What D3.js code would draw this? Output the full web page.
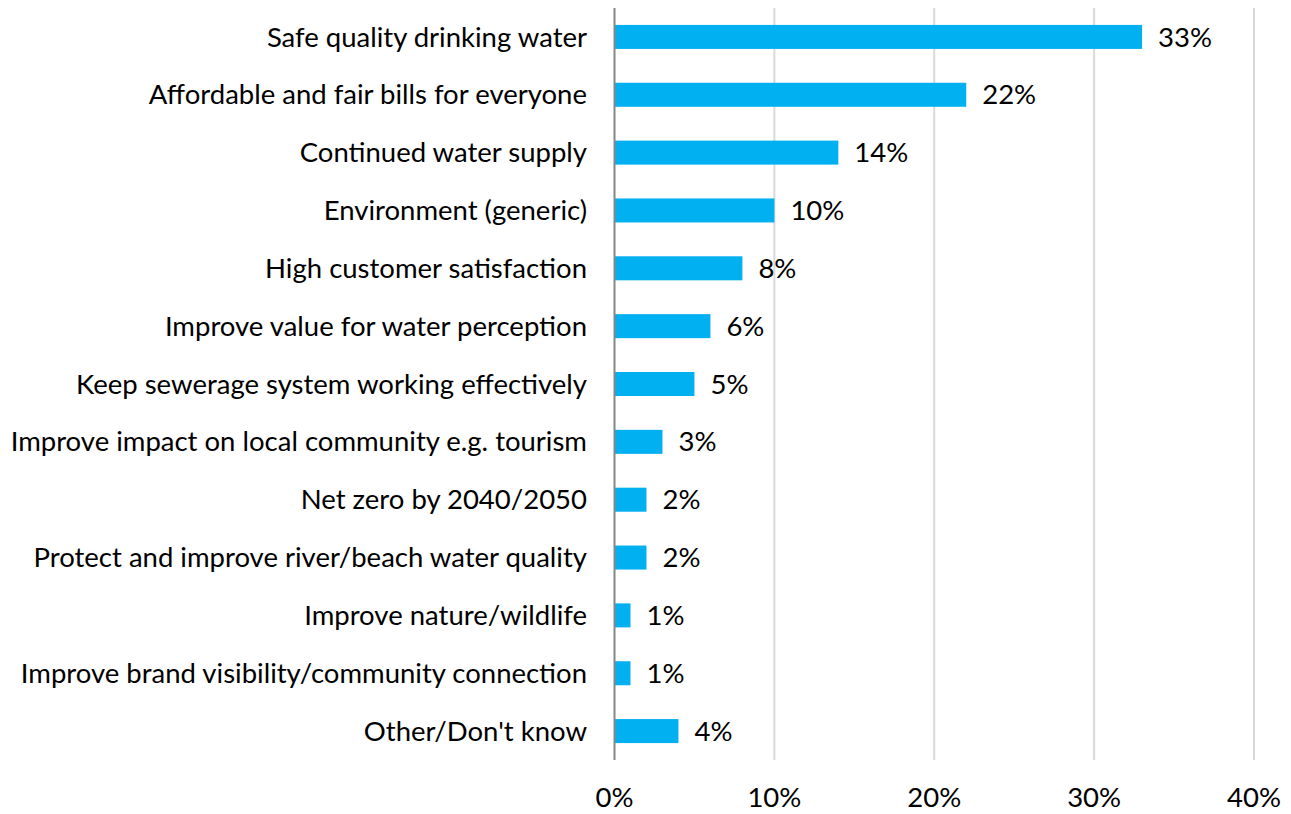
<!DOCTYPE html>
<html>
<head>
<meta charset="utf-8">
<script src="https://cdn.jsdelivr.net/npm/d3@7"></script>
<style>
  body { margin: 0; background: #fff; }
  text { font-family: Lato, "Open Sans", sans-serif; fill: #000; }
</style>
</head>
<body>
<svg id="mainSvg" width="1291" height="814"></svg>
<script>
const categories = [
    "Safe quality drinking water",
    "Affordable and fair bills for everyone",
    "Continued water supply",
    "Environment (generic)",
    "High customer satisfaction",
    "Improve value for water perception",
    "Keep sewerage system working effectively",
    "Improve impact on local community e.g. tourism",
    "Net zero by 2040/2050",
    "Protect and improve river/beach water quality",
    "Improve nature/wildlife",
    "Improve brand visibility/community connection",
    "Other/Don't know"
];
const values = [33, 22, 14, 10, 8, 6, 5, 3, 2, 2, 1, 1, 4];
const ticks = [0, 10, 20, 30, 40];

let svg = d3.select('#mainSvg');
const plotTop = 8, plotBottom = 760;
const x0 = 614.5, x1 = 1254;
const fontSize = 27.5;

const x = d3.scaleLinear().domain([0, 40]).range([x0, x1]);
const y = d3.scaleBand().domain(categories).range([plotTop, plotBottom])
    .paddingInner(0.585).paddingOuter(0.2925);

// gridlines
svg.append("g").selectAll("line").data(ticks.slice(1)).join("line")
    .attr("x1", d => x(d)).attr("x2", d => x(d))
    .attr("y1", plotTop).attr("y2", plotBottom)
    .attr("stroke", "#d9d9d9").attr("stroke-width", 2);

// bars
svg.append("g").selectAll("rect").data(values).join("rect")
    .attr("x", x(0))
    .attr("y", (d, i) => y(categories[i]))
    .attr("width", d => x(d) - x(0))
    .attr("height", y.bandwidth())
    .attr("fill", "#00b0f0");

// vertical axis line
svg.append("line")
    .attr("x1", x0).attr("x2", x0)
    .attr("y1", plotTop).attr("y2", plotBottom)
    .attr("stroke", "#868686").attr("stroke-width", 2);

// category labels
svg.append("g").selectAll("text").data(categories).join("text")
    .text(d => d)
    .attr("x", 587)
    .attr("y", d => y(d) + y.bandwidth() / 2)
    .attr("dy", "0.35em")
    .attr("text-anchor", "end")
    .attr("font-size", fontSize);

// value labels
svg.append("g").selectAll("text").data(values).join("text")
    .text(d => d + "%")
    .attr("x", d => x(d) + 16)
    .attr("y", (d, i) => y(categories[i]) + y.bandwidth() / 2)
    .attr("dy", "0.35em")
    .attr("font-size", fontSize);

// tick labels
svg.append("g").selectAll("text").data(ticks).join("text")
    .text(d => d + "%")
    .attr("x", d => x(d))
    .attr("y", 807)
    .attr("text-anchor", "middle")
    .attr("font-size", fontSize);
</script>
</body>
</html>
